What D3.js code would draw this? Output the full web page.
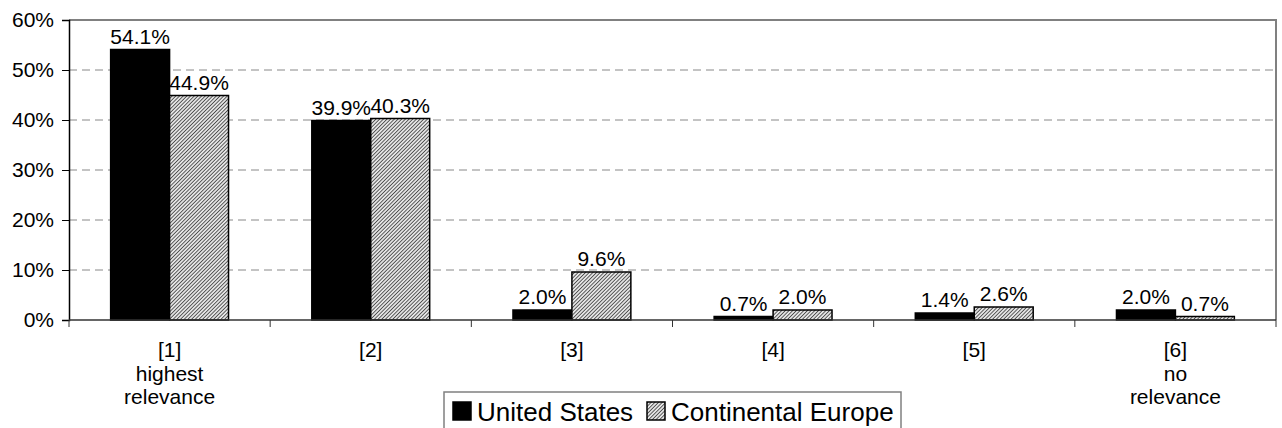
<!DOCTYPE html>
<html>
<head>
<meta charset="utf-8">
<script src="https://cdn.jsdelivr.net/npm/d3@7"></script>
<style>
  body { margin: 0; background: #fff; }
  svg { display: block; font-family: "Liberation Sans", Arial, sans-serif; }
</style>
</head>
<body>
<svg></svg>
<script>
const width = 1282;
const height = 428;

const categories = ['[1]', '[2]', '[3]', '[4]', '[5]', '[6]'];
const subLabels = [['highest', 'relevance'], [], [], [], [], ['no', 'relevance']];
const series = ['United States', 'Continental Europe'];
const usValues = [54.1, 39.9, 2.0, 0.7, 1.4, 2.0];
const europeValues = [44.9, 40.3, 9.6, 2.0, 2.6, 0.7];
const yTicks = [0, 10, 20, 30, 40, 50, 60];

const margin = {top: 20, right: 6, bottom: 108, left: 69};

const svg = d3.select('svg')
    .attr('width', width).attr('height', height);

// hatch pattern for the second series
const defs = svg.append('defs');
const pat = defs.append('pattern')
    .attr('id', 'hatch')
    .attr('patternUnits', 'userSpaceOnUse')
    .attr('width', 2.6).attr('height', 2.6)
    .attr('patternTransform', 'rotate(45)');
pat.append('rect').attr('width', 2.6).attr('height', 2.6).attr('fill', '#e4e4e4');
pat.append('line')
    .attr('x1', 0).attr('y1', 0).attr('x2', 0).attr('y2', 2.6)
    .attr('stroke', '#333').attr('stroke-width', 1.5);

const x0 = d3.scaleBand()
    .domain(categories)
    .range([margin.left, width - margin.right])
    .padding(0);

const x1 = d3.scaleBand()
    .domain(series)
    .range([x0.bandwidth() * 0.207, x0.bandwidth() * 0.793]);

const y = d3.scaleLinear()
    .domain([0, 60])
    .range([height - margin.bottom, margin.top]);

const fills = {'United States': '#000', 'Continental Europe': 'url(#hatch)'};

// gridlines
svg.append('g')
    .selectAll('line')
    .data(yTicks.filter(d => d > 0 && d < 60))
    .enter().append('line')
    .attr('x1', margin.left).attr('x2', width - margin.right)
    .attr('y1', d => y(d)).attr('y2', d => y(d))
    .attr('stroke', '#888')
    .attr('stroke-dasharray', '8,5');

// frame top/right
svg.append('path')
    .attr('d', `M${margin.left},${y(60)}H${width - margin.right}V${y(0)}`)
    .attr('fill', 'none')
    .attr('stroke', '#808080')
    .attr('stroke-width', 2);

// bars
const rows = categories.map((c, i) => ({cat: c, values: [
    {key: series[0], value: usValues[i]},
    {key: series[1], value: europeValues[i]}
]}));

const groups = svg.append('g')
    .selectAll('g')
    .data(rows)
    .enter().append('g')
    .attr('transform', d => `translate(${x0(d.cat)},0)`);

groups.selectAll('rect')
    .data(d => d.values)
    .enter().append('rect')
    .attr('x', d => x1(d.key))
    .attr('y', d => y(d.value))
    .attr('width', x1.bandwidth())
    .attr('height', d => y(0) - y(d.value))
    .attr('fill', d => fills[d.key])
    .attr('stroke', '#000')
    .attr('stroke-width', 1.5);

groups.selectAll('text')
    .data(d => d.values)
    .enter().append('text')
    .attr('x', d => x1(d.key) + x1.bandwidth() / 2)
    .attr('y', d => y(d.value) - 6)
    .attr('text-anchor', 'middle')
    .attr('font-size', 21)
    .text(d => d.value.toFixed(1) + '%');

// y axis
const yAxis = svg.append('g')
    .attr('transform', `translate(${margin.left},0)`)
    .call(d3.axisLeft(y).tickValues(yTicks).tickFormat(d => d + '%').tickSize(7).tickPadding(8));
yAxis.select('.domain').attr('stroke', '#000').attr('stroke-width', 1.5);
yAxis.selectAll('.tick line').attr('stroke', '#000');
yAxis.selectAll('text').attr('font-size', 21).attr('font-family', null);

// x axis: ticks on band edges
const xAxis = svg.append('g');
xAxis.append('line')
    .attr('x1', margin.left).attr('x2', width - margin.right)
    .attr('y1', y(0)).attr('y2', y(0))
    .attr('stroke', '#333').attr('stroke-width', 1.5);
xAxis.selectAll('.xtick')
    .data(categories.concat(['end']))
    .enter().append('line')
    .attr('class', 'xtick')
    .attr('x1', (d, i) => margin.left + i * x0.step())
    .attr('x2', (d, i) => margin.left + i * x0.step())
    .attr('y1', y(0)).attr('y2', y(0) + 7)
    .attr('stroke', '#333');

const xLabels = xAxis.selectAll('.xlabel')
    .data(categories)
    .enter().append('text')
    .attr('class', 'xlabel')
    .attr('x', d => x0(d) + x0.bandwidth() / 2)
    .attr('y', y(0) + 37)
    .attr('text-anchor', 'middle')
    .attr('font-size', 21);
xLabels.each(function (d, i) {
    const t = d3.select(this);
    [d].concat(subLabels[i]).forEach((line, j) => {
        t.append('tspan')
            .attr('x', x0(d) + x0.bandwidth() / 2)
            .attr('dy', j === 0 ? 0 : 23.5)
            .text(line);
    });
});

// legend
const legend = svg.append('g').attr('transform', 'translate(444,392)');
legend.append('rect')
    .attr('width', 457).attr('height', 44)
    .attr('fill', '#fff')
    .attr('stroke', '#808080')
    .attr('stroke-width', 1.5);
const legendX = [9, 203];
series.forEach((s, i) => {
    legend.append('rect')
        .attr('x', legendX[i]).attr('y', 10)
        .attr('width', 18).attr('height', 18)
        .attr('fill', fills[s])
        .attr('stroke', '#000')
        .attr('stroke-width', 1.5);
    legend.append('text')
        .attr('x', legendX[i] + 24)
        .attr('y', 29)
        .attr('font-size', 26)
        .text(s);
});
</script>
</body>
</html>
